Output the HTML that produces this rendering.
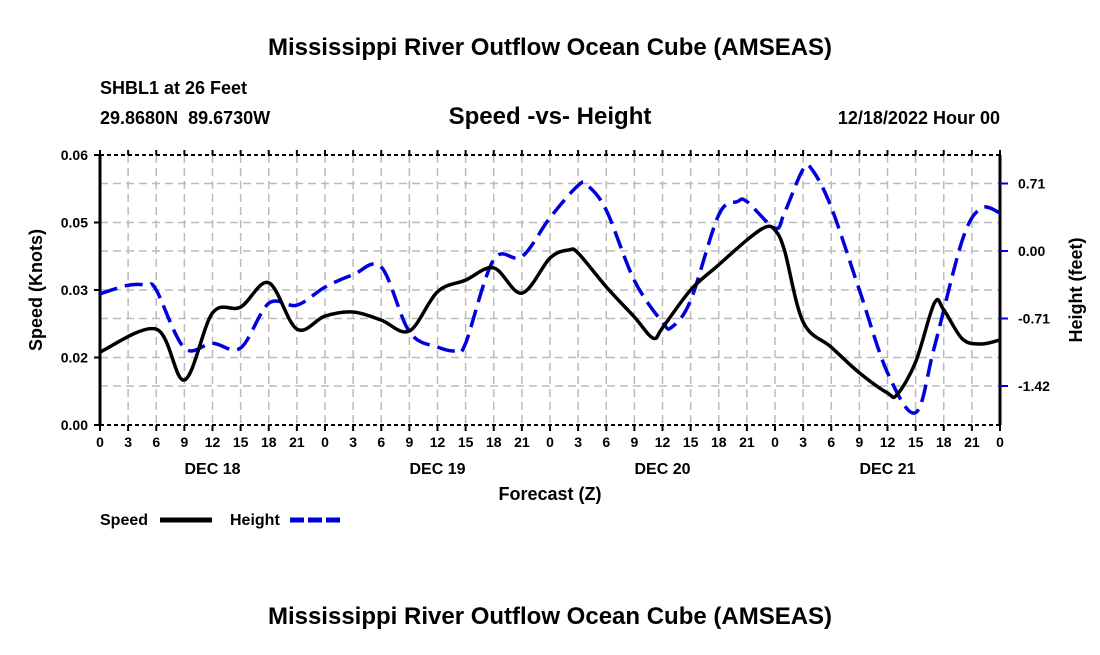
<!DOCTYPE html>
<html><head><meta charset="utf-8"><style>
body{margin:0;background:#fff;width:1100px;height:650px;overflow:hidden}
svg text{font-family:"Liberation Sans",Arial,sans-serif;font-weight:bold;fill:#000}
</style></head><body>
<svg id="c" width="1100" height="650">
<text x="550" y="55" text-anchor="middle" font-size="24">Mississippi River Outflow Ocean Cube (AMSEAS)</text>
<text x="100" y="94" font-size="18">SHBL1 at 26 Feet</text>
<text x="100" y="124" font-size="18">29.8680N&#160;&#160;89.6730W</text>
<text x="550" y="124" text-anchor="middle" font-size="24">Speed -vs- Height</text>
<text x="1000" y="124" text-anchor="end" font-size="18">12/18/2022 Hour 00</text>
<g id="grid"></g><g id="axes"></g><g id="series"></g>
<text x="550" y="500" text-anchor="middle" font-size="18">Forecast (Z)</text>
<text transform="translate(42,290) rotate(-90)" text-anchor="middle" font-size="18">Speed (Knots)</text>
<text transform="translate(1082,290) rotate(-90)" text-anchor="middle" font-size="18">Height (feet)</text>
<g>
<text x="100" y="525" font-size="16">Speed</text>
<line x1="160" y1="520" x2="212" y2="520" stroke="#000" stroke-width="5"/>
<text x="230" y="525" font-size="16">Height</text>
<line x1="290" y1="520" x2="342" y2="520" stroke="#0000dd" stroke-width="5" stroke-dasharray="14,4"/>
</g>
<text x="550" y="624" text-anchor="middle" font-size="24">Mississippi River Outflow Ocean Cube (AMSEAS)</text>
</svg>
<script>
const speedHours=[0,6,9,12,15,18,21,24,27,30,33,36,39,42,45,48,50,51,54,57,59,60,63,66,69,71,72,73,75,78,81,84,85,87,89,90,92,94,96];
const speedValues=[.0162,.0213,.0100,.0249,.0262,.0316,.0213,.0242,.0251,.0233,.0209,.0296,.0322,.0349,.0293,.0371,.0389,.0382,.0307,.024,.0193,.0216,.030,.0356,.0411,.044,.0433,.0389,.0229,.0173,.0116,.0071,.0067,.014,.0271,.0256,.0191,.018,.0189];
const heightHours=[0,3,5,6,9,12,15,18,21,24,27,30,33,36,38,39,42,45,48,51,52,54,57,60,61,63,66,68,69,72,73,75,76,78,81,84,87,89,92,94,96];
const heightValues=[-.45,-.36,-.36,-.41,-1.02,-.97,-1.02,-.55,-.57,-.38,-.25,-.17,-.85,-1.01,-1.05,-.97,-.09,-.06,.35,.69,.69,.43,-.31,-.75,-.80,-.52,.38,.52,.52,.24,.40,.86,.85,.46,-.41,-1.28,-1.70,-1.01,.12,.45,.40];
const xTickLabels=["0","3","6","9","12","15","18","21","0","3","6","9","12","15","18","21","0","3","6","9","12","15","18","21","0","3","6","9","12","15","18","21","0"];
const dayLabels=["DEC 18","DEC 19","DEC 20","DEC 21"];
const speedTicks=[0,0.015,0.03,0.045,0.06];
const speedTickLabels=["0.00","0.02","0.03","0.05","0.06"];
const heightTicks=[0.71,0,-0.71,-1.42];
const heightTickLabels=["0.71","0.00","-0.71","-1.42"];
const X0=100,X1=1000,YT=155,YB=425;
const xs=h=>X0+(X1-X0)*h/96;
const ys=v=>YB-(YB-YT)*v/0.06;
const yh=f=>251-f*95.07;
const NS="http://www.w3.org/2000/svg";
function mk(t,a,p){const e=document.createElementNS(NS,t);for(const k in a)e.setAttribute(k,a[k]);p.appendChild(e);return e;}
const grid=document.getElementById('grid'),axes=document.getElementById('axes'),ser=document.getElementById('series');
for(let i=1;i<32;i++){const l=mk('line',{x1:xs(i*3),x2:xs(i*3),y1:YT,y2:YB,stroke:'#bbb','stroke-width':1.5,'stroke-dasharray':'8,5'},grid);

}
[...speedTicks.slice(1,-1).map(ys),...heightTicks.map(yh)].forEach(y=>{const l=mk('line',{x1:X0,x2:X1,y1:y,y2:y,stroke:'#bbb','stroke-width':1.5,'stroke-dasharray':'8,5'},grid);

});
const frame=[[X0,YT,X1,YT,'#000',2,'4,3'],[X0,YB,X1,YB,'#000',2,'4,3'],[X0,YT,X0,YB,'#000',3,''],[X1,YT,X1,YB,'#000',3,'']];
frame.forEach(f=>{const l=mk('line',{x1:f[0],y1:f[1],x2:f[2],y2:f[3],stroke:f[4],'stroke-width':f[5],'stroke-dasharray':f[6]},axes);

});
xTickLabels.forEach((t,i)=>{const x=xs(i*3);mk('line',{x1:x,x2:x,y1:YB,y2:YB+6,stroke:'#000','stroke-width':2},axes);mk('line',{x1:x,x2:x,y1:YT,y2:YT-5,stroke:'#000','stroke-width':2},axes);
const tx=mk('text',{x:x,y:YB+22,'text-anchor':'middle','font-size':14},axes);tx.textContent=t;

});
dayLabels.forEach((d,i)=>{const tx=mk('text',{x:xs(12+i*24),y:YB+49,'text-anchor':'middle','font-size':16},axes);tx.textContent=d;

});
speedTicks.forEach((v,i)=>{const y=ys(v);mk('line',{x1:X0-6,x2:X0,y1:y,y2:y,stroke:'#000','stroke-width':2},axes);
const tx=mk('text',{x:X0-12,y:y+5,'text-anchor':'end','font-size':14},axes);tx.textContent=speedTickLabels[i];

});
heightTicks.forEach((v,i)=>{const y=yh(v);mk('line',{x1:X1,x2:X1+8,y1:y,y2:y,stroke:'#0000dd','stroke-width':2},axes);
const tx=mk('text',{x:X1+18,y:y+5,'font-size':14},axes);tx.textContent=heightTickLabels[i];

});
function smooth(pts){let d=`M${pts[0][0]},${pts[0][1]}`;for(let i=0;i<pts.length-1;i++){const p0=pts[i-1]||pts[i],p1=pts[i],p2=pts[i+1],p3=pts[i+2]||p2;
d+=` C${p1[0]+(p2[0]-p0[0])/6},${p1[1]+(p2[1]-p0[1])/6} ${p2[0]-(p3[0]-p1[0])/6},${p2[1]-(p3[1]-p1[1])/6} ${p2[0]},${p2[1]}`;}return d;}
const hp=mk('path',{d:smooth(heightHours.map((h,i)=>[xs(h),yh(heightValues[i])])),fill:'none',stroke:'#0000dd','stroke-width':3.5,'stroke-dasharray':'18,8'},ser);


const sp=mk('path',{d:smooth(speedHours.map((h,i)=>[xs(h),ys(speedValues[i])])),fill:'none',stroke:'#000','stroke-width':3.5},ser);


</script>
</body></html>
